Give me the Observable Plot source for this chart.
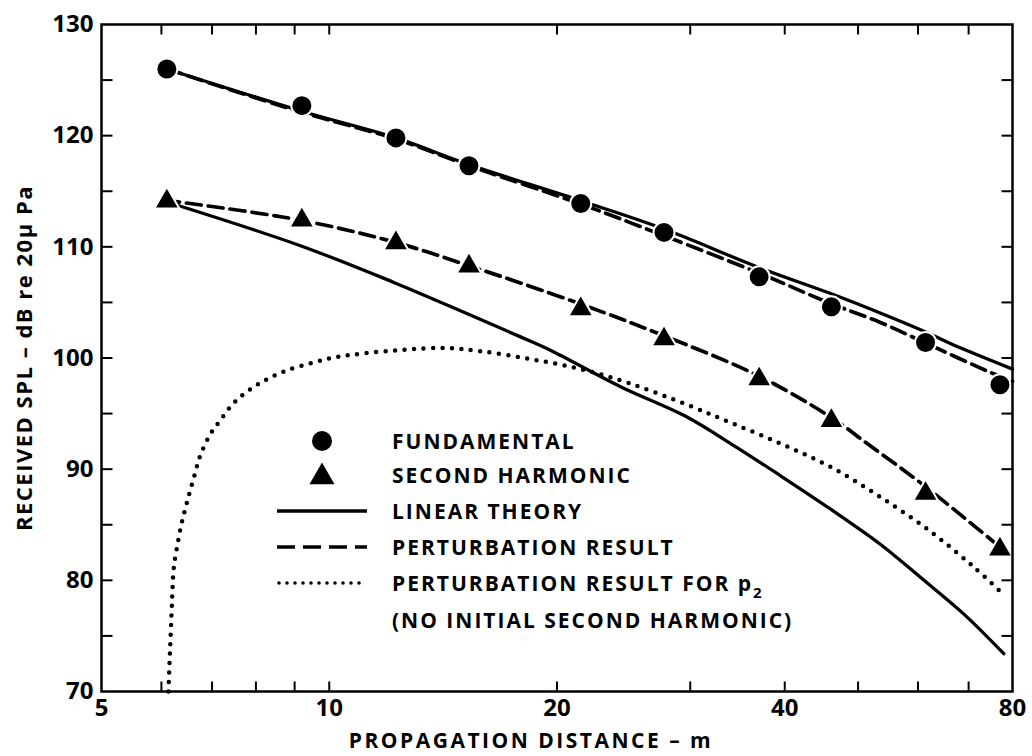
<!DOCTYPE html>
<html><head><meta charset="utf-8">
<script src="https://cdn.jsdelivr.net/npm/d3@7"></script>
<script src="https://cdn.jsdelivr.net/npm/@observablehq/plot@0.6"></script>
<style>body{margin:0;background:#fff;}</style>
</head><body><div id="chart"></div><script>
// measured points (propagation distance, m)
const distance = [6.1, 9.2, 12.25, 15.3, 21.5, 27.7, 37.0, 46.1, 61.4, 77.0];
const fundamental = [126.0, 122.7, 119.8, 117.3, 113.9, 111.3, 107.3, 104.6, 101.4, 97.6];
const secondHarmonic = [114.1, 112.4, 110.35, 108.25, 104.4, 101.7, 98.1, 94.35, 87.8, 82.8];

// linear theory, fundamental
const linFundX = [6.1, 9.2, 12.25, 15.3, 21.6, 27.7, 37.1, 46.0, 54.6, 61.6, 66.2, 80];
const linFundY = [126.0, 122.2, 119.8, 117.4, 114.1, 111.6, 108.1, 105.8, 103.8, 102.3, 101.3, 99.0];
// perturbation result, fundamental
const pertFundX = [6.1, 9.2, 12.25, 15.3, 21.6, 27.7, 37.1, 46.0, 53.5, 61.6, 74.8, 80];
const pertFundY = [126.0, 122.1, 119.7, 117.3, 113.8, 111.0, 107.6, 104.9, 103.2, 101.3, 98.7, 97.9];
// linear theory, second harmonic
const linHarmX = [6.06, 9.16, 12.17, 15.2, 17.9, 19.6, 24.3, 29.5, 34.3, 39.5, 46.0, 53.5, 60.5, 69.0, 77.9];
const linHarmY = [114.1, 110.1, 106.8, 104.0, 101.9, 100.7, 97.4, 94.8, 92.1, 89.4, 86.4, 83.25, 80.25, 76.96, 73.4];
// perturbation result, second harmonic
const pertHarmX = [6.06, 9.16, 12.23, 15.3, 21.4, 27.7, 36.9, 46.2, 51.4, 59.2, 63.6, 76.7];
const pertHarmY = [114.2, 112.4, 110.4, 108.3, 104.9, 102.0, 98.4, 94.6, 92.3, 89.25, 87.6, 83.1];
// perturbation result for p2 (no initial second harmonic)
const p2X = [6.13, 6.15, 6.17, 6.2, 6.23, 6.3, 6.39, 6.49, 6.62, 6.76, 6.97, 7.18, 7.4, 7.63, 7.95, 8.28, 8.8, 9.54, 10.25, 12.3, 14.3, 15.9, 18.45, 21.5, 25.0, 29.7, 33.9, 39.5, 46.0, 53.5, 62.3, 71.1, 77.9];
const p2Y = [70, 72.5, 74.9, 78.4, 81.1, 83.2, 85.3, 87.1, 89.2, 91.3, 93.2, 94.4, 95.6, 96.5, 97.4, 98.1, 98.9, 99.6, 100.1, 100.7, 100.9, 100.6, 99.9, 99.0, 97.7, 95.8, 94.2, 92.3, 90.2, 87.5, 84.4, 81.2, 78.7];

// ticks and labels
const xTickLabels = [5, 10, 20, 40, 80];
const xMinorTicks = [6, 7, 8, 9, 10, 20, 30, 40, 50, 60, 70];
const yTickLabels = [70, 80, 90, 100, 110, 120, 130];
const yMinorTicks = [75, 80, 85, 90, 95, 100, 105, 110, 115, 120, 125];
const xTitle = "PROPAGATION DISTANCE \u2013 m";
const yTitle = "RECEIVED SPL \u2013 dB re 20\u03bc Pa";
const legendLabels = ["FUNDAMENTAL", "SECOND HARMONIC", "LINEAR THEORY", "PERTURBATION RESULT", "PERTURBATION RESULT FOR p", "(NO INITIAL SECOND HARMONIC)"];

const zip = (xs, ys) => xs.map((x, i) => ({x, y: ys[i]}));

const tickUp = {draw(c) { c.moveTo(0, 0); c.lineTo(0, -10); }};
const tickDown = {draw(c) { c.moveTo(0, 0); c.lineTo(0, 10); }};
const tickRight = {draw(c) { c.moveTo(0, 0); c.lineTo(11, 0); }};
const tickLeft = {draw(c) { c.moveTo(0, 0); c.lineTo(-11, 0); }};

const font = "'Open Sans', 'DejaVu Sans', sans-serif";
const triR = 9.3;

const svg = Plot.plot({
  width: 1032, height: 756,
  marginLeft: 101, marginRight: 20, marginTop: 24, marginBottom: 65,
  style: {fontFamily: font, background: "white", color: "black"},
  x: {type: "log", domain: [5, 80]},
  y: {domain: [70, 130]},
  marks: [
    Plot.line(zip(linFundX, linFundY), {x: "x", y: "y", curve: "catmull-rom", stroke: "black", strokeWidth: 3.3}),
    Plot.line(zip(pertFundX, pertFundY), {x: "x", y: "y", curve: "catmull-rom", stroke: "black", strokeWidth: 3.7, strokeDasharray: "15,7"}),
    Plot.line(zip(linHarmX, linHarmY), {x: "x", y: "y", curve: "catmull-rom", stroke: "black", strokeWidth: 3.3}),
    Plot.line(zip(pertHarmX, pertHarmY), {x: "x", y: "y", curve: "catmull-rom", stroke: "black", strokeWidth: 3.7, strokeDasharray: "15,7"}),
    Plot.line(zip(p2X, p2Y), {x: "x", y: "y", curve: "catmull-rom", stroke: "black", strokeWidth: 4.5, strokeDasharray: "0,9.5", strokeLinecap: "round"}),
    Plot.dot(zip(distance, fundamental), {x: "x", y: "y", r: 10.5, fill: "black", stroke: "white", strokeWidth: 2}),
    Plot.dot(zip(distance, secondHarmonic), {x: "x", y: "y", r: triR, symbol: "triangle", fill: "black", stroke: "white", strokeWidth: 2}),
    Plot.frame({stroke: "black", strokeWidth: 2.5}),
    Plot.dot(xMinorTicks, {x: d => d, frameAnchor: "bottom", symbol: tickUp, r: 1, fill: "none", stroke: "black", strokeWidth: 2}),
    Plot.dot(xMinorTicks, {x: d => d, frameAnchor: "top", symbol: tickDown, r: 1, fill: "none", stroke: "black", strokeWidth: 2}),
    Plot.dot(yMinorTicks, {y: d => d, frameAnchor: "left", symbol: tickRight, r: 1, fill: "none", stroke: "black", strokeWidth: 2}),
    Plot.dot(yMinorTicks, {y: d => d, frameAnchor: "right", symbol: tickLeft, r: 1, fill: "none", stroke: "black", strokeWidth: 2}),
    Plot.axisX(xTickLabels, {tickSize: 0, tickPadding: 7, fontSize: 24, fontWeight: "bold", label: null, tickFormat: d => String(d)}),
    Plot.axisY(yTickLabels, {tickSize: 0, tickPadding: 8, fontSize: 24, fontWeight: "bold", label: null, tickFormat: d => String(d)}),
    Plot.text([xTitle], {frameAnchor: "bottom", textAnchor: "middle", lineAnchor: "middle", dx: -26, dy: 50, fontSize: 21, fontWeight: "bold", text: d => d}),
    Plot.text([yTitle], {frameAnchor: "left", textAnchor: "middle", lineAnchor: "middle", rotate: -90, dx: -77, fontSize: 22, fontWeight: "bold", text: d => d})
  ]
});

document.getElementById("chart").appendChild(svg);

const s = d3.select(svg);
s.selectAll("text").filter(function() { return this.textContent === xTitle; }).attr("letter-spacing", "2.5");
s.selectAll("text").filter(function() { return this.textContent === yTitle; }).attr("letter-spacing", "1.5");

// legend
const lg = s.append("g").attr("font-family", font).attr("font-weight", "bold").attr("font-size", 21).attr("fill", "black").attr("text-anchor", "start");
const rowY = [441, 475, 511, 547, 583, 620];
const symX = 322, lineX1 = 277, lineX2 = 367, textX = 392;
lg.append("circle").attr("cx", symX).attr("cy", rowY[0]).attr("r", 10).attr("fill", "black");
lg.append("path").attr("d", d3.symbol(d3.symbolTriangle, triR * triR * Math.PI)()).attr("transform", `translate(${symX},${rowY[1] + 2})`).attr("fill", "black");
lg.append("line").attr("x1", lineX1).attr("x2", lineX2).attr("y1", rowY[2]).attr("y2", rowY[2]).attr("stroke", "black").attr("stroke-width", 3.3);
lg.append("line").attr("x1", lineX1).attr("x2", lineX2).attr("y1", rowY[3]).attr("y2", rowY[3]).attr("stroke", "black").attr("stroke-width", 3.7).attr("stroke-dasharray", "18,8");
lg.append("line").attr("x1", lineX1 + 2).attr("x2", lineX2).attr("y1", rowY[4]).attr("y2", rowY[4]).attr("stroke", "black").attr("stroke-width", 3.6).attr("stroke-dasharray", "0,8").attr("stroke-linecap", "round");
legendLabels.forEach((t, i) => {
  const tx = lg.append("text").attr("x", textX).attr("y", rowY[i]).attr("dy", "0.36em").attr("letter-spacing", "2").text(t);
  if (i === 4) tx.append("tspan").attr("font-size", 15).attr("dy", 7).text("2");
});
</script></body></html>
